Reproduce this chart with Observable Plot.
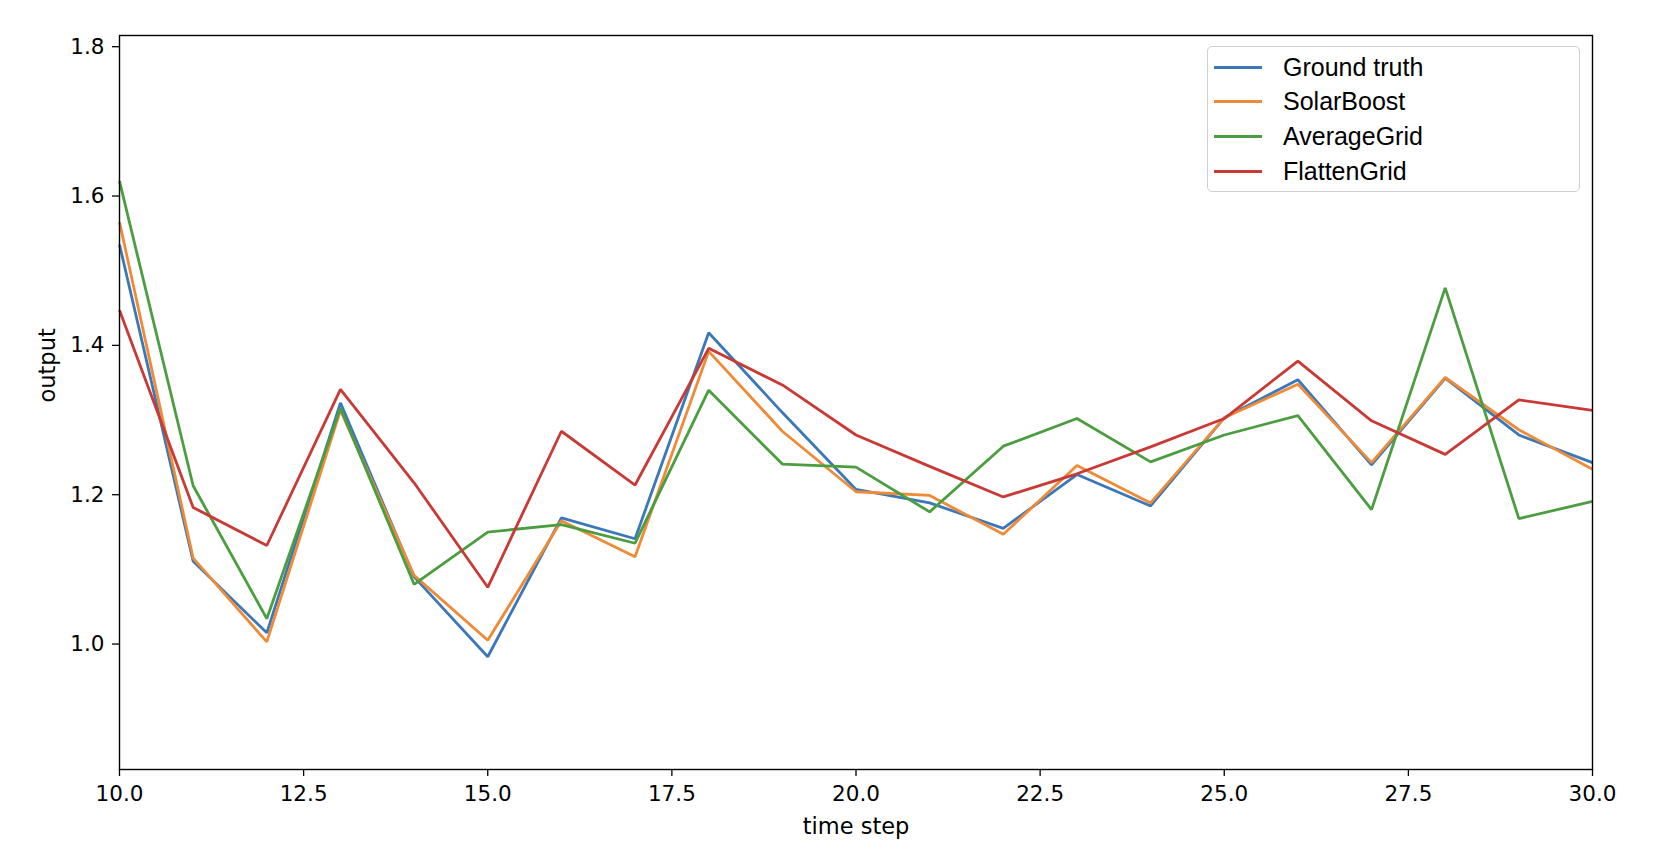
<!DOCTYPE html>
<html>
<head>
<meta charset="utf-8">
<script src="https://cdn.jsdelivr.net/npm/d3@7"></script>
<script src="https://cdn.jsdelivr.net/npm/@observablehq/plot@0.6"></script>
<style>
  html, body { margin: 0; padding: 0; background: #fff; }
  #wrap { position: relative; width: 1664px; height: 868px; }
  #legend {
    position: absolute; left: 1207px; top: 46px; width: 373px; height: 146px;
    border: 1.5px solid #d0d0d0; border-radius: 5px; background: rgba(255,255,255,0.85);
    font-family: "Liberation Sans", Arial, sans-serif; font-size: 25px; color: #000;
    box-sizing: border-box;
  }
  .row { position: absolute; left: 0; height: 34px; display: flex; align-items: center; }
  .sw { width: 48px; height: 0; border-top: 3px solid; margin-left: 6px; margin-right: 21px; }
</style>
</head>
<body>
<div id="wrap"></div>
<script>
const steps = [10,11,12,13,14,15,16,17,18,19,20,21,22,23,24,25,26,27,28,29,30];
const groundTruth = [1.535,1.111,1.015,1.323,1.090,0.983,1.169,1.141,1.417,1.310,1.207,1.189,1.155,1.227,1.185,1.303,1.354,1.240,1.356,1.280,1.243];
const solarBoost  = [1.565,1.115,1.003,1.313,1.092,1.005,1.165,1.117,1.392,1.285,1.204,1.199,1.147,1.239,1.189,1.303,1.348,1.243,1.357,1.287,1.234];
const averageGrid = [1.620,1.212,1.034,1.316,1.080,1.150,1.160,1.135,1.340,1.241,1.237,1.177,1.265,1.302,1.244,1.280,1.306,1.180,1.477,1.168,1.191];
const flattenGrid = [1.447,1.183,1.132,1.341,1.216,1.076,1.285,1.213,1.396,1.347,1.280,1.238,1.197,1.228,1.264,1.302,1.379,1.299,1.254,1.327,1.313];
const seriesNames = ["Ground truth","SolarBoost","AverageGrid","FlattenGrid"];
const seriesColors = ["#3a78b9","#ef8a36","#4b9e3f","#c93a36"];
const xTicks = [10,12.5,15,17.5,20,22.5,25,27.5,30];
const yTicks = [1.0,1.2,1.4,1.6,1.8];

const seriesValues = [groundTruth, solarBoost, averageGrid, flattenGrid];
const rows = [];
seriesNames.forEach((name, i) => {
  steps.forEach((t, j) => rows.push({series: name, t, v: seriesValues[i][j]}));
});

const tickFont = "DejaVu Sans, sans-serif";
const chart = Plot.plot({
  width: 1664,
  height: 868,
  marginLeft: 119,
  marginRight: 72,
  marginTop: 35,
  marginBottom: 99,
  style: {fontFamily: tickFont, fontSize: "21px", color: "#000", background: "#fff"},
  x: {domain: [10, 30]},
  y: {domain: [0.832, 1.815]},
  color: {domain: seriesNames, range: seriesColors},
  marks: [
    Plot.axisX({ticks: xTicks, tickFormat: d3.format(".1f"), tickSize: 7, tickPadding: 9, label: null, fontSize: 21.5, strokeWidth: 1.3}),
    Plot.axisY({ticks: yTicks, tickFormat: d3.format(".1f"), tickSize: 7, tickPadding: 8, label: null, fontSize: 21.5, strokeWidth: 1.3}),
    Plot.line(rows, {x: "t", y: "v", z: "series", stroke: "series", strokeWidth: 2.8, strokeLinejoin: "miter", strokeLinecap: "butt"}),
    Plot.frame({stroke: "#000", strokeWidth: 1.4}),
    Plot.text(["time step"], {frameAnchor: "bottom", dy: 64, text: d => d, fontSize: 22.5, fill: "#000"}),
    Plot.text(["output"], {frameAnchor: "left", dx: -72, rotate: -90, text: d => d, fontSize: 22.5, fill: "#000"})
  ]
});

const wrap = document.getElementById("wrap");
wrap.appendChild(chart);

const legend = document.createElement("div");
legend.id = "legend";
seriesNames.forEach((name, i) => {
  const r = document.createElement("div");
  r.className = "row";
  r.style.top = (3 + i * 34.7) + "px";
  const sw = document.createElement("div");
  sw.className = "sw";
  sw.style.borderTopColor = seriesColors[i];
  const tx = document.createElement("span");
  tx.textContent = name;
  r.appendChild(sw);
  r.appendChild(tx);
  legend.appendChild(r);
});
wrap.appendChild(legend);
</script>
</body>
</html>
